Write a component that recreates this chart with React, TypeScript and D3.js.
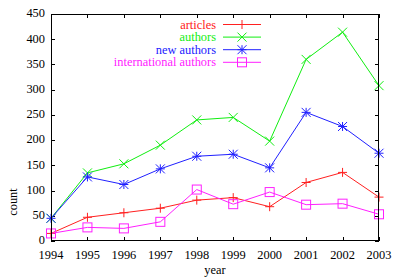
import React from 'react'
import * as d3 from 'd3'

const years = [1994, 1995, 1996, 1997, 1998, 1999, 2000, 2001, 2002, 2003]
const articles = [15, 47, 56, 65, 81, 86, 68, 116, 136, 87]
const authors = [45, 135, 153, 190, 240, 245, 198, 360, 414, 308]
const newAuthors = [45, 127, 112, 143, 168, 172, 145, 255, 227, 174]
const intlAuthors = [15, 27, 25, 38, 102, 73, 97, 72, 74, 53]
const yTicks = [0, 50, 100, 150, 200, 250, 300, 350, 400, 450]

const series = [
  { name: 'articles', values: articles, color: '#ff2020', marker: 'plus' },
  { name: 'authors', values: authors, color: '#10ee10', marker: 'cross' },
  { name: 'new authors', values: newAuthors, color: '#2020ff', marker: 'star' },
  { name: 'international authors', values: intlAuthors, color: '#ff20ff', marker: 'square' },
]

const W = 400
const H = 279
const left = 51
const right = 379
const top = 14
const bottom = 241
const font = '"Liberation Serif", "DejaVu Serif", serif'

const Marker = ({ type, x, y, color }) => {
  const s = 4.5
  if (type === 'plus') {
    return <path d={`M${x - s},${y}H${x + s}M${x},${y - s}V${y + s}`} stroke={color} />
  }
  if (type === 'cross') {
    return <path d={`M${x - s},${y - s}L${x + s},${y + s}M${x - s},${y + s}L${x + s},${y - s}`} stroke={color} />
  }
  if (type === 'star') {
    return (
      <path
        d={`M${x - s},${y}H${x + s}M${x},${y - s}V${y + s}M${x - s},${y - s}L${x + s},${y + s}M${x - s},${y + s}L${x + s},${y - s}`}
        stroke={color}
      />
    )
  }
  return <rect x={x - s} y={y - s} width={2 * s} height={2 * s} fill="none" stroke={color} />
}

const App = () => {
  const x = d3.scaleLinear().domain([1994, 2003]).range([left, right])
  const y = d3.scaleLinear().domain([0, 450]).range([bottom, top])
  const line = d3
    .line()
    .x((d, i) => x(years[i]))
    .y(d => y(d))

  return (
    <svg
      width={W}
      height={H}
      style={{ position: 'absolute', left: 0, top: 0, background: '#fff' }}
      fontFamily={font}
      fontSize={12.4}
    >
      {/* ticks */}
      <g stroke="#000" strokeWidth={1}>
        {yTicks.map(t => (
          <g key={t}>
            <line x1={left} x2={left + 4} y1={Math.round(y(t)) + 0.5} y2={Math.round(y(t)) + 0.5} />
            <line x1={right - 4} x2={right} y1={Math.round(y(t)) + 0.5} y2={Math.round(y(t)) + 0.5} />
          </g>
        ))}
        {years.map(yr => (
          <g key={yr}>
            <line x1={Math.round(x(yr)) + 0.5} x2={Math.round(x(yr)) + 0.5} y1={bottom} y2={bottom - 4} />
            <line x1={Math.round(x(yr)) + 0.5} x2={Math.round(x(yr)) + 0.5} y1={top} y2={top + 4} />
          </g>
        ))}
      </g>
      {yTicks.map(t => (
        <text key={t} x={left - 6} y={y(t) - 1} dy="0.35em" textAnchor="end">
          {t}
        </text>
      ))}
      {years.map(yr => (
        <text key={yr} x={x(yr)} y={bottom + 17.5} textAnchor="middle">
          {yr}
        </text>
      ))}
      <text x={(left + right) / 2} y={274} textAnchor="middle">
        year
      </text>
      <text transform={`translate(17,202)rotate(-90)`} textAnchor="middle">
        count
      </text>

      {/* legend */}
      {series.map((s, i) => {
        const ly = 24.5 + i * 12.6
        return (
          <g key={s.name}>
            <text x={216} y={ly} dy="0.33em" textAnchor="end" fill={s.color}>
              {s.name}
            </text>
            <line x1={223} x2={261} y1={ly} y2={ly} stroke={s.color} />
            <Marker type={s.marker} x={242} y={ly} color={s.color} />
          </g>
        )
      })}

      {/* series */}
      {series.map(s => (
        <g key={s.name}>
          <path d={line(s.values)} fill="none" stroke={s.color} strokeWidth={1} />
          {s.values.map((v, i) => (
            <Marker key={i} type={s.marker} x={x(years[i])} y={y(v)} color={s.color} />
          ))}
        </g>
      ))}

      <rect
        x={left + 0.5}
        y={top + 0.5}
        width={right - left - 1}
        height={bottom - top - 1}
        fill="none"
        stroke="#000"
      />
    </svg>
  )
}

export default App
